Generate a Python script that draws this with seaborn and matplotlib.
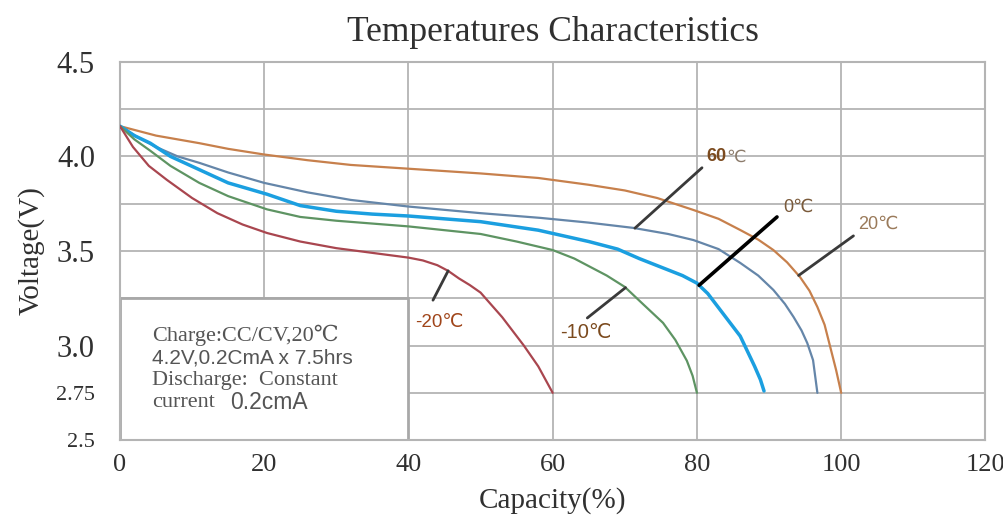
import numpy as np
import pandas as pd
import matplotlib as mpl
mpl.use("Agg")
from matplotlib import pyplot as plt
from matplotlib.patches import Rectangle
import seaborn as sns

# discharge curves: capacity (%) and voltage (V)
temps = ["20℃", "60℃", "0℃", "-10℃", "-20℃"]

cap_20 = [0, 2.5, 5, 8, 11, 15, 20, 26, 32, 40, 50, 58, 65, 70, 74.5, 79.5, 83, 86, 88.5, 90.6, 92.5, 94.3, 95.6, 96.7, 97.7, 98.5, 99.3, 100]
volt_20 = [4.16, 4.135, 4.11, 4.09, 4.07, 4.04, 4.01, 3.98, 3.955, 3.935, 3.91, 3.886, 3.85, 3.82, 3.78, 3.717, 3.67, 3.611, 3.56, 3.505, 3.44, 3.362, 3.29, 3.204, 3.11, 2.99, 2.87, 2.75]

cap_60 = [0, 2.5, 5, 8, 11, 15, 20, 26, 32, 40, 50, 58.3, 65, 71.2, 76, 79.5, 83, 86, 88.5, 90.6, 92.2, 93.4, 94.5, 95.3, 96.1, 96.7]
volt_60 = [4.16, 4.10, 4.05, 4.00, 3.966, 3.915, 3.86, 3.81, 3.77, 3.735, 3.70, 3.675, 3.65, 3.622, 3.59, 3.558, 3.51, 3.437, 3.37, 3.294, 3.22, 3.151, 3.08, 3.013, 2.923, 2.75]

cap_0 = [0, 2, 4.2, 7, 11, 15, 20.4, 25, 30, 35, 40, 50, 58, 65, 69, 72, 76, 78, 80, 81.5, 83, 84.6, 86, 87, 88, 88.8, 89.3]
volt_0 = [4.16, 4.11, 4.07, 4.00, 3.93, 3.86, 3.80, 3.74, 3.71, 3.695, 3.685, 3.655, 3.61, 3.55, 3.51, 3.46, 3.40, 3.37, 3.33, 3.275, 3.20, 3.12, 3.05, 2.97, 2.89, 2.82, 2.76]

cap_m10 = [0, 2, 4.2, 7, 11, 15, 20.4, 25, 30, 40, 50, 55, 60, 63, 65, 67.5, 70, 72.5, 75.3, 77, 78.6, 79.4, 80]
volt_m10 = [4.16, 4.09, 4.03, 3.95, 3.86, 3.79, 3.72, 3.68, 3.66, 3.63, 3.59, 3.55, 3.505, 3.46, 3.42, 3.37, 3.31, 3.22, 3.12, 3.03, 2.92, 2.84, 2.75]

cap_m20 = [0, 1.8, 4, 6.5, 10, 13.5, 17, 20.4, 25, 30, 35, 40, 42, 44, 45.5, 47, 48.5, 50, 53, 56, 58, 60]
volt_m20 = [4.16, 4.05, 3.95, 3.876, 3.78, 3.70, 3.64, 3.595, 3.55, 3.515, 3.49, 3.465, 3.45, 3.425, 3.395, 3.355, 3.32, 3.28, 3.15, 3.0, 2.89, 2.75]

x_ticks = [0, 20, 40, 60, 80, 100, 120]
y_ticks = [2.5, 2.75, 3.0, 3.5, 4.0, 4.5]
y_tick_labels = ["2.5", "2.75", "3.0", "3.5", "4.0", "4.5"]

series = {
    "20℃": (cap_20, volt_20),
    "60℃": (cap_60, volt_60),
    "0℃": (cap_0, volt_0),
    "-10℃": (cap_m10, volt_m10),
    "-20℃": (cap_m20, volt_m20),
}

colors = {"20℃": "#c7804c", "60℃": "#6586a9", "0℃": "#1b9fe0",
          "-10℃": "#5e9463", "-20℃": "#a9464f"}
widths = {"20℃": 1.6, "60℃": 1.6, "0℃": 2.5, "-10℃": 1.6, "-20℃": 1.6}

rows = []
for t in temps:
    c, v = series[t]
    for a, b in zip(c, v):
        rows.append({"Temperature": t, "Capacity": a, "Voltage": b})
df = pd.DataFrame(rows)

sns.set_theme(style="white")
serif = ["Liberation Serif", "DejaVu Serif"]
sans = ["Liberation Sans", "DejaVu Sans"]
plt.rcParams["font.family"] = serif

fig = plt.figure(figsize=(10.04, 5.24), dpi=100)
ax = fig.add_axes([0.1195, 0.160, 0.862, 0.722])

grid_c = "#b4b4b4"
for gx in np.arange(0, 121, 20):
    ax.axvline(gx, color=grid_c, lw=1.3, zorder=0)
for gy in np.arange(2.5, 4.51, 0.25):
    ax.axhline(gy, color=grid_c, lw=1.3, zorder=0)

# white note box in the lower left corner
ax.add_patch(Rectangle((0, 2.5), 40, 0.75, facecolor="white", edgecolor="#a8a8a8",
                       lw=2.0, zorder=1))

for t in temps:
    sns.lineplot(data=df[df["Temperature"] == t], x="Capacity", y="Voltage",
                 color=colors[t], lw=widths[t], sort=False, ax=ax, zorder=3,
                 solid_joinstyle="round", solid_capstyle="round")

ax.set_xlim(0, 120)
ax.set_ylim(2.5, 4.5)
ax.set_xticks(x_ticks)
ax.set_yticks(y_ticks)
ax.set_yticklabels(y_tick_labels)
for lab in ax.get_yticklabels():
    if lab.get_text() in ("2.5", "2.75"):
        lab.set_fontsize(16)
    else:
        lab.set_fontsize(22)
    lab.set_color("#303030")
for lab in ax.get_xticklabels():
    lab.set_fontsize(19)
    lab.set_color("#303030")
ax.tick_params(axis="y", length=0, pad=18)
ax.tick_params(axis="x", length=0, pad=10)
for s in ax.spines.values():
    s.set_color(grid_c)
    s.set_linewidth(1.5)

ax.set_xlabel("Capacity(%)", fontsize=21, color="#303030", labelpad=8)
ax.set_ylabel("Voltage(V)", fontsize=21, color="#303030", labelpad=8)
ax.set_title("Temperatures Characteristics", fontsize=25.5, color="#303030", pad=15)

# note text
note_c = "#555555"
ax.text(4.4, 3.056, "Charge:CC/CV,20℃", family=serif, fontsize=16, color=note_c,
        va="center", zorder=4)
ax.text(4.4, 2.934, "4.2V,0.2CmA x 7.5hrs", family=sans, fontsize=15, color=note_c,
        va="center", zorder=4)
ax.text(4.4, 2.817, "Discharge:  Constant", family=serif, fontsize=16, color=note_c,
        va="center", zorder=4)
ax.text(4.4, 2.70, "current", family=serif, fontsize=16, color=note_c,
        va="center", zorder=4)
ax.text(15.3, 2.70, "0.2cmA", family=sans, fontsize=16.5, color=note_c,
        va="center", zorder=4)

# leader lines: tip sits on the curve at a given capacity
def on_curve(t, x):
    c, v = series[t]
    return (x, float(np.interp(x, c, v)))

leaders = [
    ("60℃", 71.4, (80.7, 3.94), "#3a3a3a", 2.0),
    ("0℃", 80.3, (91.1, 3.68), "#000000", 2.6),
    ("20℃", 94.1, (101.7, 3.58), "#3a3a3a", 2.0),
    ("-10℃", 70.1, (64.8, 3.146), "#3a3a3a", 2.0),
    ("-20℃", 45.5, (43.4, 3.24), "#3a3a3a", 2.0),
]
for t, xc, outer, lc, lw in leaders:
    ax.annotate("", xy=on_curve(t, xc), xytext=outer,
                arrowprops=dict(arrowstyle="-", color=lc, lw=lw, shrinkA=0, shrinkB=0),
                zorder=4)

t60 = ax.text(81.3, 3.997, "60", family=sans, fontsize=13, fontweight="bold",
              color="#7b4a1e", va="center", zorder=5)
ax.annotate("℃", xy=(1, 0.5), xycoords=t60, va="center", fontsize=12.5,
            family=sans, color="#8c7b6b", zorder=5)
ax.text(92.0, 3.733, "0℃", family=sans, fontsize=13, color="#7a5a3a",
        va="center", zorder=5)
ax.text(102.4, 3.643, "20℃", family=sans, fontsize=13, color="#9a7a5a",
        va="center", zorder=5)
ax.text(61.0, 3.07, "-10℃", family=sans, fontsize=14.5, color="#7b4a1e",
        va="center", zorder=5,
        bbox=dict(facecolor="white", edgecolor="none", pad=2))
ax.text(40.9, 3.12, "-20℃", family=sans, fontsize=13.5, color="#a0451a",
        va="center", zorder=5)

fig.savefig("out.png", dpi=100)
